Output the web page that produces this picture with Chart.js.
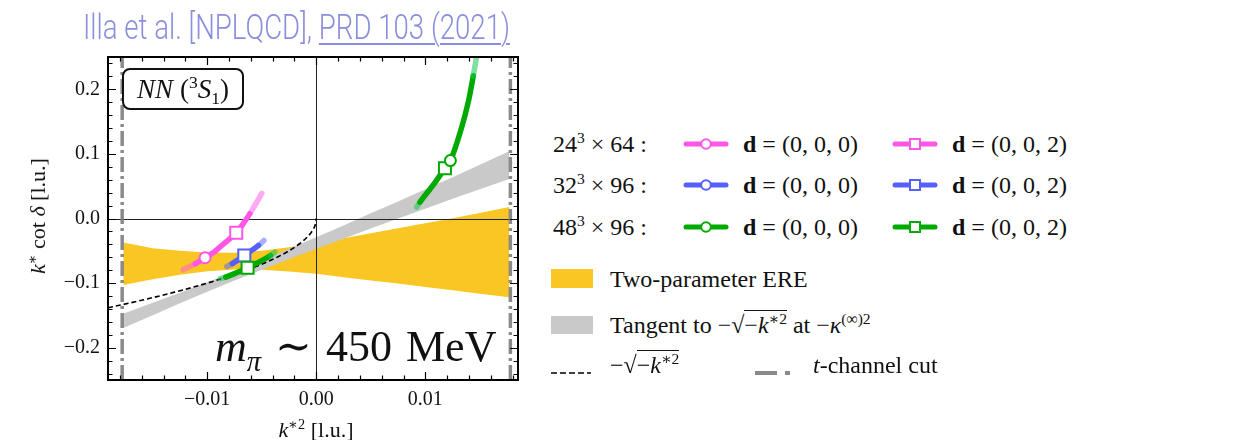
<!DOCTYPE html>
<html>
<head>
<meta charset="utf-8">
<script src="https://cdn.jsdelivr.net/npm/chart.js@4.4.0/dist/chart.umd.min.js"></script>
<style>
  body { margin: 0; background: #fff; }
  #wrap { position: relative; width: 1251px; height: 440px; overflow: hidden;
          font-family: 'Liberation Serif', 'DejaVu Serif', serif; color: #111; }
  #plot { position: absolute; left: 0; top: 0; width: 540px; height: 440px; }
  .t { position: absolute; white-space: nowrap; }
  #title { left: 83px; top: 8px; font-family: Roboto, 'Open Sans', sans-serif; font-weight: 300;
           font-size: 35px; line-height: 40px; color: #8a8edc; transform-origin: 0 0; }
  #title u { text-decoration-thickness: 2px; text-underline-offset: 4px; }
  .sqrt { border-top: 1.5px solid #111; padding-top: 1px; }
  sup, sub { font-size: 65%; line-height: 0; }
</style>
</head>
<body>
<div id="wrap">
  <div id="plot"><canvas id="chart"></canvas></div>
  <div id="title" class="t">Illa et al. [NPLQCD], <u>PRD 103 (2021)</u></div>

  <div class="t" style="left:38px; top:216px; font-size:22px; transform: translate(-50%,-50%) rotate(-90deg);">
    <i>k</i><sup>∗</sup> cot <i>δ</i> [l.u.]</div>
  <div class="t" style="left:316px; top:430px; font-size:22px; transform: translate(-50%,-50%);">
    <i>k</i><sup>∗2</sup> [l.u.]</div>

  <div class="t" style="left:122px; top:68px; width:122px; height:42px; box-sizing:border-box; border:2px solid #111;
       border-radius:8px; background:#fff; font-size:27px; line-height:38px; text-align:center;">
    <i>NN</i> (<sup>3</sup><i>S</i><sub>1</sub>)</div>
  <div class="t" style="left:215px; top:325px; font-size:44px; line-height:44px; word-spacing:3px;">
    <i>m</i><sub><i>π</i></sub> ∼ 450 MeV</div>

  <div id="legend"></div>
</div>

<script>
// axes
const xMin = -0.0191, xMax = 0.0185;
const yMin = -0.25, yMax = 0.25;
const xTicksMajor = [-0.01, 0.0, 0.01];
const xTickLabels = ['−0.01', '0.00', '0.01'];
const yTicksMajor = [-0.2, -0.1, 0.0, 0.1, 0.2];
const yTickLabels = ['−0.2', '−0.1', '0.0', '0.1', '0.2'];
const xMinorStep = 0.002, yMinorStep = 0.02;

// bande
const bandX = [-0.0177, -0.015, -0.0125, -0.01, -0.0075, -0.005, -0.0025, 0, 0.0025, 0.005, 0.0075, 0.01, 0.0125, 0.015, 0.0177];
const ereUpper = [-0.0370, -0.0461, -0.0501, -0.0528, -0.0530, -0.0499, -0.0444, -0.0390, -0.0305, -0.0230, -0.0152, -0.0074, 0.0004, 0.0084, 0.0178];
const ereLower = [-0.1030, -0.0939, -0.0872, -0.0818, -0.0790, -0.0795, -0.0822, -0.0855, -0.0909, -0.0958, -0.1008, -0.1060, -0.1112, -0.1164, -0.1218];
const tanUpper = [-0.1474, -0.1306, -0.1148, -0.0988, -0.0821, -0.0649, -0.0470, -0.0289, -0.0107, 0.0080, 0.0265, 0.0452, 0.0640, 0.0833, 0.1040];
const tanLower = [-0.1694, -0.1496, -0.1313, -0.1133, -0.0959, -0.0792, -0.0628, -0.0469, -0.0312, -0.0156, -0.0001, 0.0152, 0.0305, 0.0453, 0.0613];

// -sqrt(-k*^2)
const sqrtX = [-0.0191, -0.017, -0.015, -0.013, -0.011, -0.009, -0.007, -0.005, -0.0035, -0.0025, -0.0015, -0.0008, -0.0003, -0.0001, 0];
const sqrtY = [-0.1382, -0.1304, -0.1225, -0.1140, -0.1049, -0.0949, -0.0837, -0.0707, -0.0592, -0.0500, -0.0387, -0.0283, -0.0173, -0.0100, 0];

// t-channel cut
const cutX = [-0.0178, 0.0178];

// curve dei dati
const pinkCircleX = [-0.0122, -0.0111, -0.0102, -0.0093];
const pinkCircleY = [-0.0793, -0.0700, -0.0608, -0.0510];
const pinkSquareX = [-0.0093, -0.0084, -0.00734, -0.0067, -0.0061, -0.0055, -0.0050];
const pinkSquareY = [-0.0510, -0.0380, -0.0221, -0.0080, 0.0072, 0.0240, 0.0390];
const blueSquareX = [-0.0082, -0.0077, -0.0066, -0.0053, -0.0048];
const blueSquareY = [-0.0742, -0.0700, -0.0572, -0.0417, -0.0340];
const greenLowX = [-0.0088, -0.0083, -0.0063, -0.0042, -0.0038];
const greenLowY = [-0.0932, -0.0907, -0.0762, -0.0572, -0.0520];
const greenHighSqX = [0.0092, 0.0095, 0.0108, 0.0118, 0.0123];
const greenHighSqY = [0.0175, 0.0252, 0.0536, 0.0777, 0.0896];
const greenHighCiX = [0.0118, 0.0123, 0.0132, 0.0140, 0.0144, 0.0149];
const greenHighCiY = [0.0777, 0.0896, 0.1334, 0.1850, 0.2210, 0.2700];

// punti
const circleX = [-0.0102, 0.0123];
const circleY = [-0.0608, 0.0896];
const squareX = [-0.00734, -0.0066, -0.0063, 0.0118];
const squareY = [-0.0221, -0.0572, -0.0762, 0.0777];

const pink = '#ff55e8', pinkPale = 'rgba(255,85,232,0.5)';
const blue = '#5560ff', bluePale = 'rgba(85,96,255,0.5)';
const green = '#00aa00', greenPale = 'rgba(20,200,80,0.55)';
const yellow = '#f9c623', grey = '#c9c9c9';

const pts = (xs, ys) => xs.map((x, i) => ({ x: x, y: ys[i] }));

function curva(xs, ys, col, pale, paleStart, paleEnd) {
  const n = xs.length;
  return {
    data: pts(xs, ys), borderColor: col, borderWidth: 5.5, pointRadius: 0,
    borderCapStyle: 'round', cubicInterpolationMode: 'monotone', order: 3,
    segment: {
      borderColor: ctx => (ctx.p0DataIndex < paleStart || ctx.p0DataIndex >= n - 1 - paleEnd) ? pale : col
    }
  };
}

const datasets = [
  { data: pts(bandX, ereUpper), fill: '+1', backgroundColor: yellow, borderWidth: 0, pointRadius: 0, order: 20 },
  { data: pts(bandX, ereLower), fill: false, borderWidth: 0, pointRadius: 0, order: 21 },
  { data: pts(bandX, tanUpper), fill: '+1', backgroundColor: grey, borderWidth: 0, pointRadius: 0, order: 18 },
  { data: pts(bandX, tanLower), fill: false, borderWidth: 0, pointRadius: 0, order: 19 },
  { data: pts(sqrtX, sqrtY), borderColor: '#000', borderWidth: 1.6, borderDash: [5, 3], pointRadius: 0,
    cubicInterpolationMode: 'monotone', order: 10 },
  ...cutX.map(c => ({ data: [{ x: c, y: yMin }, { x: c, y: yMax }], borderColor: 'rgba(125,125,125,0.9)',
    borderWidth: 3.5, borderDash: [15, 4, 3, 4], pointRadius: 0, order: 12 })),
  curva(pinkCircleX, pinkCircleY, pink, pinkPale, 1, 0),
  curva(pinkSquareX, pinkSquareY, pink, pinkPale, 0, 2),
  curva(blueSquareX, blueSquareY, blue, bluePale, 1, 1),
  curva(greenLowX, greenLowY, green, greenPale, 1, 1),
  curva(greenHighSqX, greenHighSqY, green, greenPale, 1, 0),
  curva(greenHighCiX, greenHighCiY, green, greenPale, 0, 1),
  { data: pts(circleX, circleY), showLine: false, pointStyle: 'circle', pointRadius: 5.5,
    pointBackgroundColor: '#fff', pointBorderColor: [pink, green], pointBorderWidth: 2, order: 0 },
  { data: pts(squareX, squareY), showLine: false, pointStyle: 'rect', pointRadius: 8.5,
    pointBackgroundColor: '#fff', pointBorderColor: [pink, blue, green, green], pointBorderWidth: 2, order: 0 }
];

const GREY_UPPER = 2;

function tickList(min, max, step) {
  const out = [];
  for (let v = Math.ceil(min / step) * step; v <= max + 1e-12; v += step) out.push(+v.toFixed(6));
  return out;
}
const xAllTicks = tickList(xMin, xMax, xMinorStep);
const yAllTicks = tickList(yMin, yMax, yMinorStep);
const isMajor = (v, majors) => majors.some(m => Math.abs(m - v) < 1e-9);

// linee dello zero sopra le bande
const zeroLines = {
  id: 'zeroLines',
  afterDatasetDraw(chart, args) {
    if (args.index !== GREY_UPPER) return;
    const { ctx, chartArea: a, scales: { x, y } } = chart;
    ctx.save();
    ctx.strokeStyle = '#222';
    ctx.lineWidth = 1;
    const px = Math.round(x.getPixelForValue(0)) + 0.5;
    const py = Math.round(y.getPixelForValue(0)) + 0.5;
    ctx.beginPath();
    ctx.moveTo(a.left, py); ctx.lineTo(a.right, py);
    ctx.moveTo(px, a.top); ctx.lineTo(px, a.bottom);
    ctx.stroke();
    ctx.restore();
  }
};

// cornice e tacche verso l'interno
const frameTicks = {
  id: 'frameTicks',
  afterDraw(chart) {
    const { ctx, chartArea: a, scales: { x, y } } = chart;
    ctx.save();
    ctx.strokeStyle = '#000';
    ctx.lineWidth = 1.2;
    ctx.beginPath();
    xAllTicks.forEach(v => {
      const px = Math.round(x.getPixelForValue(v)) + 0.5;
      const len = isMajor(v, xTicksMajor) ? 8 : 4.5;
      ctx.moveTo(px, a.bottom); ctx.lineTo(px, a.bottom - len);
      ctx.moveTo(px, a.top); ctx.lineTo(px, a.top + len);
    });
    yAllTicks.forEach(v => {
      const py = Math.round(y.getPixelForValue(v)) + 0.5;
      const len = isMajor(v, yTicksMajor) ? 8 : 4.5;
      ctx.moveTo(a.left, py); ctx.lineTo(a.left + len, py);
      ctx.moveTo(a.right, py); ctx.lineTo(a.right - len, py);
    });
    ctx.stroke();
    ctx.lineWidth = 2;
    ctx.strokeRect(a.left, a.top, a.right - a.left, a.bottom - a.top);
    ctx.restore();
  }
};

const tickFont = { family: "'Liberation Serif', 'DejaVu Serif', serif", size: 20 };

new Chart(document.getElementById('chart'), {
  type: 'line',
  data: { datasets: datasets },
  options: {
    responsive: true, maintainAspectRatio: false, animation: false, devicePixelRatio: 1,
    layout: { padding: { top: 57, right: 22, left: 0, bottom: 0 } },
    plugins: { legend: { display: false }, tooltip: { enabled: false } },
    scales: {
      x: {
        type: 'linear', min: xMin, max: xMax,
        grid: { display: false, drawTicks: false }, border: { display: false },
        afterBuildTicks: ax => { ax.ticks = xAllTicks.map(v => ({ value: v })); },
        afterFit: ax => { ax.height = 60; },
        ticks: {
          autoSkip: false, maxRotation: 0, padding: 8, color: '#111', font: tickFont,
          callback: v => { const i = xTicksMajor.findIndex(m => Math.abs(m - v) < 1e-9); return i >= 0 ? xTickLabels[i] : ''; }
        }
      },
      y: {
        type: 'linear', min: yMin, max: yMax,
        grid: { display: false, drawTicks: false }, border: { display: false },
        afterBuildTicks: ax => { ax.ticks = yAllTicks.map(v => ({ value: v })); },
        afterFit: ax => { ax.width = 108; },
        ticks: {
          autoSkip: false, padding: 8, color: '#111', font: tickFont,
          callback: v => { const i = yTicksMajor.findIndex(m => Math.abs(m - v) < 1e-9); return i >= 0 ? yTickLabels[i] : ''; }
        }
      }
    }
  },
  plugins: [zeroLines, frameTicks]
});

// legenda
const legendRows = ['24<sup>3</sup> × 64 :', '32<sup>3</sup> × 96 :', '48<sup>3</sup> × 96 :'];
const legendColors = [pink, blue, green];
const legendRowY = [144, 185, 227];
const leg = document.getElementById('legend');

function addText(html, left, cy, size) {
  const d = document.createElement('div');
  d.className = 't';
  d.style.left = left + 'px';
  d.style.top = (cy - 15) + 'px';
  d.style.lineHeight = '30px';
  d.style.fontSize = size + 'px';
  d.innerHTML = html;
  leg.appendChild(d);
}
function addSvg(svg, left, cy, w, h) {
  const d = document.createElement('div');
  d.className = 't';
  d.style.left = left + 'px';
  d.style.top = (cy - h / 2) + 'px';
  d.innerHTML = `<svg width="${w}" height="${h}">${svg}</svg>`;
  leg.appendChild(d);
}

legendRows.forEach((lab, i) => {
  const cy = legendRowY[i], col = legendColors[i];
  addText(lab, 553, cy, 24);
  addSvg(`<line x1="3" y1="8" x2="43" y2="8" stroke="${col}" stroke-width="5" stroke-linecap="round"/>
          <circle cx="23" cy="8" r="4.8" fill="#fff" stroke="${col}" stroke-width="2"/>`, 683, cy, 46, 16);
  addText('<b>d</b> = (0, 0, 0)', 743, cy, 24);
  addSvg(`<line x1="3" y1="8" x2="43" y2="8" stroke="${col}" stroke-width="5" stroke-linecap="round"/>
          <rect x="18" y="3" width="10" height="10" fill="#fff" stroke="${col}" stroke-width="2"/>`, 892, cy, 46, 16);
  addText('<b>d</b> = (0, 0, 2)', 952, cy, 24);
});

addSvg(`<rect x="0" y="0" width="42" height="19" fill="${yellow}"/>`, 551, 278.5, 42, 19);
addText('Two-parameter ERE', 610, 279, 24);
addSvg(`<rect x="0" y="0" width="42" height="18" fill="${grey}"/>`, 551, 325, 42, 18);
addText('Tangent to −√<span class="sqrt">−<i>k</i><sup>∗2</sup></span> at −<i>κ</i><sup>(∞)2</sup>', 610, 325, 24);
addSvg(`<line x1="0" y1="3" x2="40" y2="3" stroke="#000" stroke-width="1.6" stroke-dasharray="6 3"/>`, 551, 365, 40, 6);
addText('−√<span class="sqrt">−<i>k</i><sup>∗2</sup></span>', 610, 365, 24);
addSvg(`<line x1="0" y1="3" x2="36" y2="3" stroke="rgba(125,125,125,0.9)" stroke-width="4" stroke-dasharray="22 8 5 8"/>`, 755, 365, 36, 6);
addText('<i>t</i>-channel cut', 813, 365, 24);

// titolo: larghezza come nell'originale
const title = document.getElementById('title');
const w = title.getBoundingClientRect().width;
title.style.transform = `scaleX(${427 / w})`;
</script>
</body>
</html>
